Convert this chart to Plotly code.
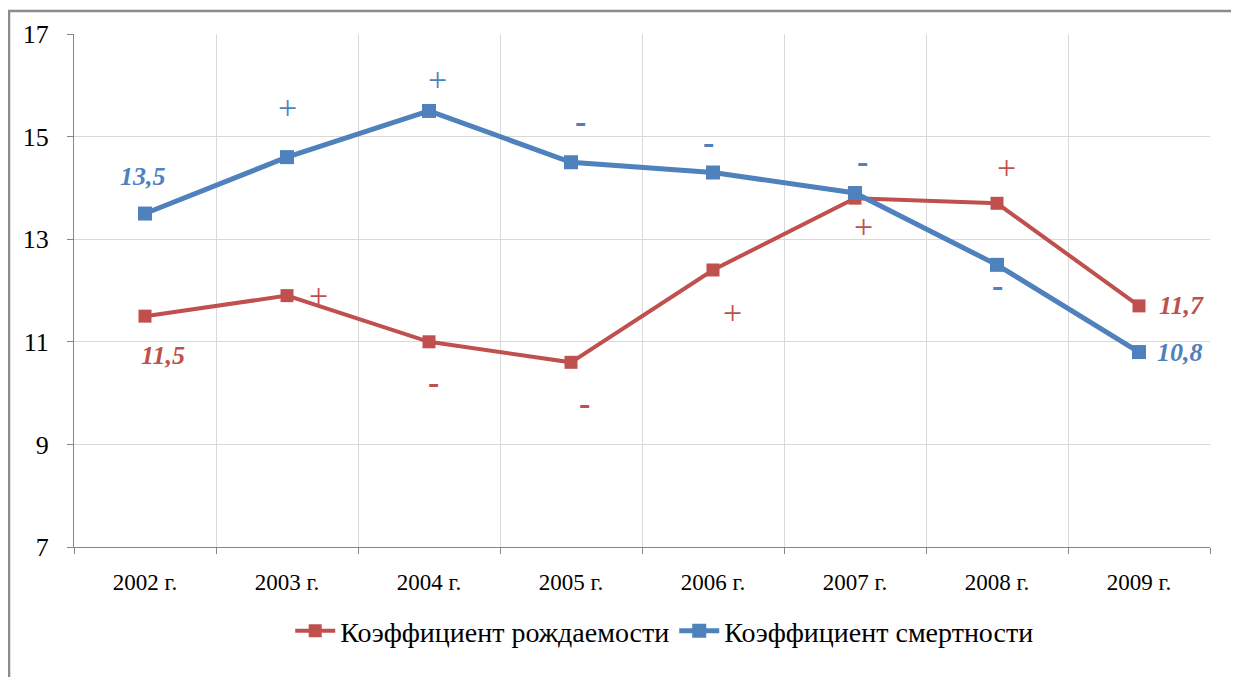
import plotly.graph_objects as go

# Data
years = ["2002 г.", "2003 г.", "2004 г.", "2005 г.", "2006 г.", "2007 г.", "2008 г.", "2009 г."]
birth_rate = [11.5, 11.9, 11.0, 10.6, 12.4, 13.8, 13.7, 11.7]
death_rate = [13.5, 14.6, 15.5, 14.5, 14.3, 13.9, 12.5, 10.8]

# change signs shown next to the points
birth_signs = ["", "+", "-", "-", "+", "+", "+", ""]
death_signs = ["", "+", "+", "-", "-", "-", "-", ""]

RED = "#C0504D"
BLUE = "#4F81BD"
FONT = "Liberation Serif"

fig = go.Figure()
fig.add_trace(go.Scatter(x=years, y=birth_rate, mode="lines+markers",
                         name="Коэффициент рождаемости",
                         line=dict(color=RED, width=4),
                         marker=dict(symbol="square", size=13, color=RED)))
fig.add_trace(go.Scatter(x=years, y=death_rate, mode="lines+markers",
                         name="Коэффициент смертности",
                         line=dict(color=BLUE, width=5),
                         marker=dict(symbol="square", size=14, color=BLUE)))

# pixel offsets of the sign labels relative to their points
death_shift = [(0, 0), (0, 50), (8, 31), (9, 41), (-5, 30), (7, 32), (0, -21), (0, 0)]
birth_shift = [(0, 0), (31, 0), (4, -41), (13, -41), (19, -43), (8, -28), (9, 36), (0, 0)]

def sign_text(s):
    return "<b>-</b>" if s == "-" else s

for i, s in enumerate(death_signs):
    if s:
        fig.add_annotation(x=years[i], y=death_rate[i], text=sign_text(s), showarrow=False,
                           xshift=death_shift[i][0], yshift=death_shift[i][1],
                           font=dict(family=FONT, size=34, color=BLUE))
for i, s in enumerate(birth_signs):
    if s:
        fig.add_annotation(x=years[i], y=birth_rate[i], text=sign_text(s), showarrow=False,
                           xshift=birth_shift[i][0], yshift=birth_shift[i][1],
                           font=dict(family=FONT, size=34, color=RED))

# value labels at the ends
lab_font = dict(family=FONT, size=26)
fig.add_annotation(x=years[0], y=death_rate[0], text="<b><i>13,5</i></b>", showarrow=False,
                   xshift=-2, yshift=37, font=dict(**lab_font, color=BLUE))
fig.add_annotation(x=years[0], y=birth_rate[0], text="<b><i>11,5</i></b>", showarrow=False,
                   xshift=18, yshift=-39, font=dict(**lab_font, color=RED))
fig.add_annotation(x=years[-1], y=birth_rate[-1], text="<b><i>11,7</i></b>", showarrow=False,
                   xanchor="left", xshift=18, yshift=0, font=dict(**lab_font, color=RED))
fig.add_annotation(x=years[-1], y=death_rate[-1], text="<b><i>10,8</i></b>", showarrow=False,
                   xanchor="left", xshift=16, yshift=0, font=dict(**lab_font, color=BLUE))

# outer frame
fig.add_shape(type="rect", xref="paper", yref="paper",
              x0=-0.0572, x1=1.05, y0=-0.30, y1=1.0448,
              line=dict(color="#8c8c8c", width=2.5), fillcolor="rgba(0,0,0,0)")

fig.update_layout(
    width=1231, height=669,
    margin=dict(l=66, r=29, t=26, b=130),
    paper_bgcolor="white", plot_bgcolor="white",
    font=dict(family=FONT, color="black"),
    showlegend=True,
    legend=dict(orientation="h", x=0.52, xanchor="center", y=-0.164, yanchor="middle",
                font=dict(family=FONT, size=28), itemwidth=40, traceorder="normal"),
    xaxis=dict(type="category", tickson="boundaries", range=[-0.5, 7.5],
               showgrid=True, gridcolor="#d9d9d9", gridwidth=1,
               showline=True, linecolor="#868686", linewidth=1,
               ticks="outside", ticklen=6, tickcolor="#868686",
               tickfont=dict(family=FONT, size=23), ticklabelstandoff=14),
    yaxis=dict(range=[7, 17], dtick=2, tick0=7,
               showgrid=True, gridcolor="#d9d9d9", gridwidth=1,
               showline=True, linecolor="#868686", linewidth=1,
               ticks="outside", ticklen=6, tickcolor="#868686",
               tickfont=dict(family=FONT, size=26), ticklabelstandoff=13,
               zeroline=False),
)

fig.write_html("out.html")
